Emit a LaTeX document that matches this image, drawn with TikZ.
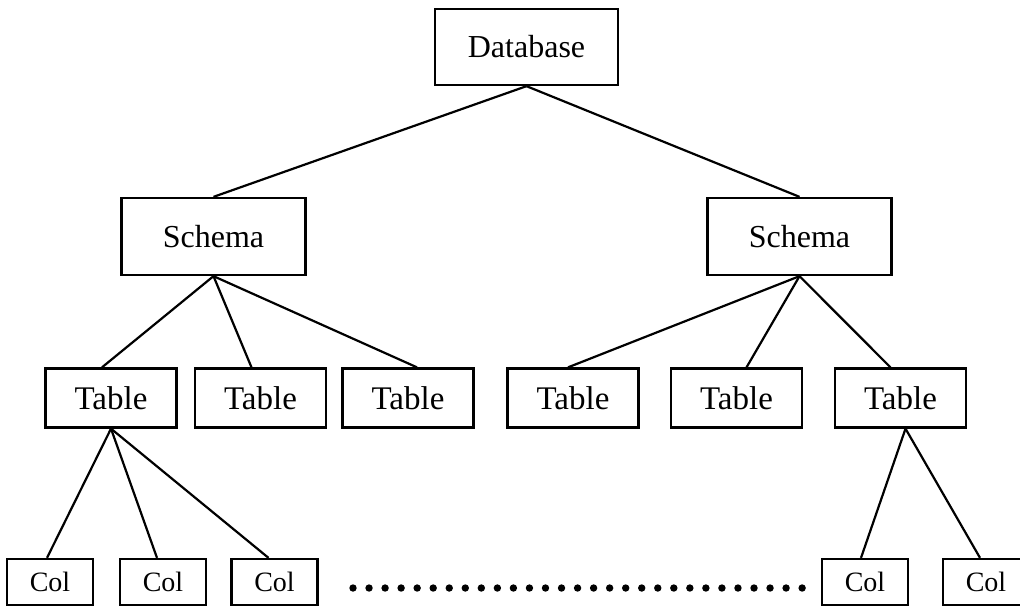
\documentclass[tikz,border=0pt]{standalone}
\usepackage{fontspec}
\setmainfont{Liberation Serif}
\usepackage{tikz}
\usetikzlibrary{positioning}

\tikzset{
    box/.style={draw=black, line width=1.15pt, fill=white, inner sep=0pt},
    dbbox/.style={box, minimum width=91.5pt, minimum height=38pt, font=\fontsize{16}{19}\selectfont},
    schemabox/.style={box, minimum width=92pt, minimum height=38.5pt, font=\fontsize{16}{19}\selectfont},
    tablebox/.style={box, minimum width=65.5pt, minimum height=29.5pt, font=\fontsize{16.5}{19}\selectfont},
    colbox/.style={box, minimum width=43pt, minimum height=23pt, font=\fontsize{14}{16}\selectfont},
    link/.style={draw=black, line width=1.1pt}
}

\begin{document}
\begin{tikzpicture}[x=0.5pt, y=-0.5pt]
    \useasboundingbox (0,0) rectangle (1020,607);
    \clip (0,0) rectangle (1020,607);
    % root and schemas
    \node[dbbox] (db) at (526.5,47) {Database};
    \node[schemabox] (s1) at (213.5,236.5) {Schema};
    \node[schemabox] (s2) at (799.5,236.5) {Schema};
    % tables
    \node[tablebox] (t1) at (111,398) {Table};
    \node[tablebox] (t2) at (260.5,398) {Table};
    \node[tablebox] (t3) at (408,398) {Table};
    \node[tablebox] (t4) at (573,398) {Table};
    \node[tablebox] (t5) at (736.5,398) {Table};
    \node[tablebox] (t6) at (900.5,398) {Table};
    % columns
    \node[colbox] (c1) at (50,582) {Col};
    \node[colbox] (c2) at (163,582) {Col};
    \node[colbox] (c3) at (274.5,582) {Col};
    \node[colbox] (c4) at (865,582) {Col};
    \node[colbox] (c5) at (986,582) {Col};
    % connectors
    \draw[link] (db.south) -- (s1.north);
    \draw[link] (db.south) -- (s2.north);
    \draw[link] (s1.south) -- ([xshift=-4.5pt]t1.north);
    \draw[link] (s1.south) -- ([xshift=-4.5pt]t2.north);
    \draw[link] (s1.south) -- ([xshift=4.5pt]t3.north);
    \draw[link] (s2.south) -- ([xshift=-2.5pt]t4.north);
    \draw[link] (s2.south) -- ([xshift=5pt]t5.north);
    \draw[link] (s2.south) -- ([xshift=-5pt]t6.north);
    \draw[link] (t1.south) -- ([xshift=-1.5pt]c1.north);
    \draw[link] (t1.south) -- ([xshift=-3pt]c2.north);
    \draw[link] (t1.south) -- ([xshift=-3pt]c3.north);
    \draw[link] ([xshift=2.5pt]t6.south) -- ([xshift=-2pt]c4.north);
    \draw[link] ([xshift=2.5pt]t6.south) -- ([xshift=-3pt]c5.north);
    % row of dots
    \foreach \i in {0,...,28}
        \fill (353+\i*16.04,588) circle (3.7);
\end{tikzpicture}
\end{document}
